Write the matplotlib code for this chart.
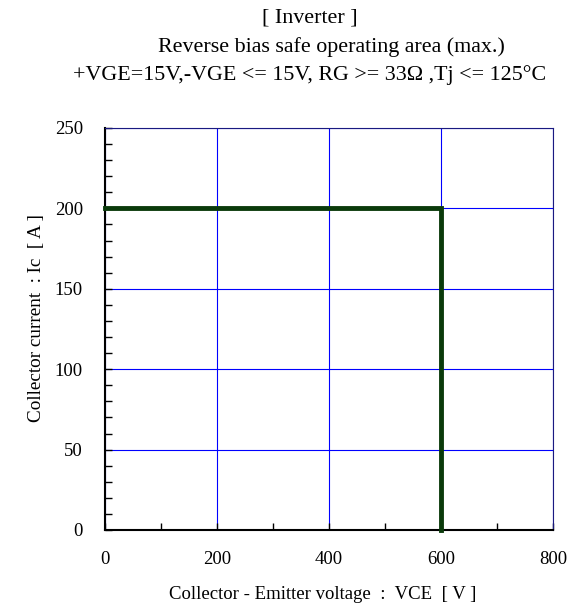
import matplotlib
matplotlib.use('Agg')
import matplotlib.pyplot as plt
from matplotlib.ticker import MultipleLocator

plt.rcParams['font.family'] = ['Liberation Serif', 'DejaVu Serif']

# RBSOA boundary (max.)
vce = [0, 600, 600]
ic = [200, 200, 0]

x_ticks = [0, 200, 400, 600, 800]
y_ticks = [0, 50, 100, 150, 200, 250]

fig = plt.figure(figsize=(5.76, 6.03), dpi=100)
ax = fig.add_axes([105 / 576, 1 - 530 / 603, 448 / 576, 402 / 603])

ax.set_xlim(0, 800)
ax.set_ylim(0, 250)
ax.set_xticks(x_ticks)
ax.set_yticks(y_ticks)
ax.xaxis.set_minor_locator(MultipleLocator(100))
ax.yaxis.set_minor_locator(MultipleLocator(10))
ax.tick_params(which='both', direction='in', top=False, right=False, labelsize=13.5)
ax.tick_params(which='major', length=5, width=1)
ax.tick_params(which='minor', length=5, width=1)
ax.tick_params(axis='x', pad=15)
ax.tick_params(axis='y', pad=16)

ax.grid(True, which='major', color='#0000ff', linewidth=0.8)
for s in ['top', 'right']:
    ax.spines[s].set_color('#1a1a80')
for s in ['left', 'bottom']:
    ax.spines[s].set_color('black')
    ax.spines[s].set_linewidth(1.5)

ax.plot(vce, ic, color='#0a3a0a', linewidth=3.5, solid_joinstyle='miter', clip_on=False, zorder=5)

ax.set_xlabel('Collector - Emitter voltage  :  VCE  [ V ]', fontsize=13.5)
ax.set_ylabel('Collector current  : Ic  [ A ]', fontsize=13.8)
ax.xaxis.set_label_coords(0.487, -0.139)
ax.yaxis.set_label_coords(-0.133, 0.527)

fig.text(310 / 576, 1 - 18 / 603, '[ Inverter ]', ha='center', va='center', fontsize=15.8)
fig.text(331 / 576, 1 - 47 / 603, 'Reverse bias safe operating area (max.)', ha='center', va='center', fontsize=15.8)
fig.text(310 / 576, 1 - 75 / 603, '+VGE=15V,-VGE <= 15V, RG >= 33\u03a9 ,Tj <= 125\u00b0C', ha='center', va='center', fontsize=15.8)

fig.savefig('out.png', dpi=100)
